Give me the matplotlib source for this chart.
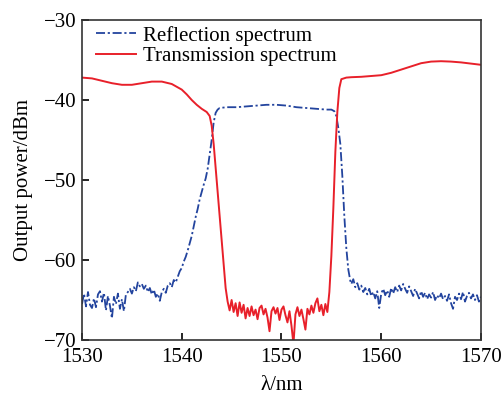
import numpy as np
import matplotlib
matplotlib.use("Agg")
import matplotlib.pyplot as plt

plt.rcParams['font.family'] = ['Liberation Serif', 'DejaVu Serif']

# Reflection spectrum (blue)
refl_noise1 = [-65.5, -64.2, -65.8, -64.0, -65.6, -66.0, -64.8, -65.9, -64.3, -63.9,
               -65.2, -64.1, -66.3, -64.5, -65.7, -67.3, -64.6, -65.5, -64.2, -66.1,
               -64.9, -66.4, -64.3, -64.0, -63.6, -64.2, -63.4, -63.9, -62.8, -63.3,
               -63.0, -63.6, -63.2, -64.0, -63.5, -64.3, -63.7, -64.6, -64.2, -65.1,
               -64.0, -63.6, -64.1, -63.2, -62.9, -63.4, -62.5, -62.8, -62.1, -61.4,
               -61.0, -60.2, -59.6, -58.8, -57.9]
refl_mid_x = [1541.0, 1541.2, 1541.4, 1541.6, 1541.8, 1542.0, 1542.2, 1542.4, 1542.6,
              1542.8, 1543.0, 1543.2, 1543.4, 1543.6, 1543.8, 1544.5, 1545.5, 1546.5,
              1547.5, 1548.5, 1549.5, 1550.5, 1551.5, 1552.5, 1553.5, 1554.5, 1555.0,
              1555.3, 1555.5, 1555.7, 1555.9, 1556.1, 1556.3, 1556.5, 1556.7, 1556.9]
refl_mid_y = [-57.0, -55.8, -54.6, -53.6, -52.4, -51.5, -50.6, -49.8, -48.6,
              -46.8, -45.0, -42.8, -41.6, -41.2, -41.0, -40.9, -40.9, -40.8,
              -40.7, -40.6, -40.6, -40.7, -40.9, -41.0, -41.1, -41.2, -41.2,
              -41.4, -42.0, -43.5, -45.5, -49.5, -54.5, -58.5, -61.2, -62.6]
refl_noise2 = [-63.0, -62.4, -63.4, -62.9, -63.7, -63.2, -64.0, -63.5, -64.3, -63.6,
               -64.5, -64.0, -64.8, -63.9, -66.0, -64.2, -63.6, -64.4, -63.8, -64.6,
               -63.5, -64.2, -63.4, -64.0, -63.2, -63.8, -63.0, -63.6, -64.1, -63.3,
               -63.9, -64.5, -63.6, -64.2, -64.8, -63.9, -64.6, -64.1, -64.9, -64.3,
               -64.7, -64.0, -65.0, -64.4, -64.8, -64.2, -64.9, -64.5, -65.1, -64.3,
               -65.4, -66.1, -64.6, -65.0, -64.2, -64.9, -64.0, -65.2, -64.5, -64.1,
               -64.8, -64.3, -65.0, -64.4, -65.2, -64.6]

# Transmission spectrum (red)
trans_left_x = [1530, 1531, 1532, 1533, 1534, 1535, 1536, 1537, 1538, 1539, 1540,
                1540.5, 1541, 1541.5, 1542, 1542.5, 1542.8, 1543.0, 1543.2, 1543.4,
                1543.6, 1543.8, 1544.0, 1544.2, 1544.4]
trans_left_y = [-37.2, -37.3, -37.6, -37.9, -38.1, -38.1, -37.9, -37.7, -37.7, -38.0, -38.7,
                -39.3, -40.0, -40.6, -41.1, -41.5, -42.0, -43.2, -45.5, -48.5,
                -51.5, -54.5, -57.5, -60.5, -63.5]
trans_floor = [-65.2, -66.3, -65.0, -66.5, -65.4, -67.0, -65.3, -66.6, -65.6, -67.3,
               -66.0, -67.0, -65.8, -66.9, -66.2, -67.4, -66.0, -65.7, -66.8, -66.1,
               -67.2, -68.9, -66.4, -65.9, -66.7, -66.0, -67.5, -66.2, -65.8, -66.9,
               -67.8, -66.4, -68.2, -70.5, -66.8, -65.9, -67.0, -66.2, -67.4, -68.7,
               -66.1, -66.8, -65.7, -66.6, -65.4, -64.8, -66.4, -65.6, -66.9, -65.5,
               -66.5]
trans_right_x = [1554.8, 1555.0, 1555.2, 1555.4, 1555.6, 1555.8, 1556.0, 1556.5, 1557,
                 1558, 1559, 1560, 1561, 1562, 1563, 1564, 1565, 1566, 1567, 1568,
                 1569, 1570]
trans_right_y = [-64.0, -59.5, -53.5, -46.5, -41.5, -38.5, -37.4, -37.2, -37.15,
                 -37.1, -37.0, -36.9, -36.6, -36.2, -35.8, -35.4, -35.2, -35.15, -35.2, -35.3,
                 -35.45, -35.6]

refl_x = np.concatenate([np.linspace(1530.0, 1540.8, len(refl_noise1)), refl_mid_x,
                         np.linspace(1557.0, 1570.0, len(refl_noise2))])
refl_y = np.concatenate([refl_noise1, refl_mid_y, refl_noise2])
trans_x = np.concatenate([trans_left_x, np.linspace(1544.6, 1554.6, len(trans_floor)),
                          trans_right_x])
trans_y = np.concatenate([trans_left_y, trans_floor, trans_right_y])

fig = plt.figure(figsize=(5.01, 3.96), dpi=100)
ax = fig.add_axes([0.1637, 0.1414, 0.7963, 0.8081])

ax.plot(refl_x, refl_y, color='#23449e', lw=1.3, linestyle=(0, (5, 1.5, 1.2, 1.5)),
        label='Reflection spectrum')
ax.plot(trans_x, trans_y, color='#e8202a', lw=1.4, label='Transmission spectrum')

ax.set_xlim(1530, 1570)
ax.set_ylim(-70, -30)
ax.set_xticks([1530, 1540, 1550, 1560, 1570])
ax.set_yticks([-70, -60, -50, -40, -30])
ax.tick_params(direction='in', length=5, width=1.2, labelsize=15)
ax.tick_params(axis='x', pad=6)
ax.tick_params(axis='y', pad=4)
for s in ax.spines.values():
    s.set_linewidth(1.2)
    s.set_color('#333333')

ax.set_xlabel('λ/nm', fontsize=15, labelpad=6)
ax.set_ylabel('Output power/dBm', fontsize=15, labelpad=8)

ax.legend(loc='upper left', frameon=False, fontsize=15, handlelength=1.9,
          handletextpad=0.35, borderaxespad=0.1, labelspacing=0.05,
          bbox_to_anchor=(0.01, 1.015))

fig.savefig('out.png', dpi=100)
